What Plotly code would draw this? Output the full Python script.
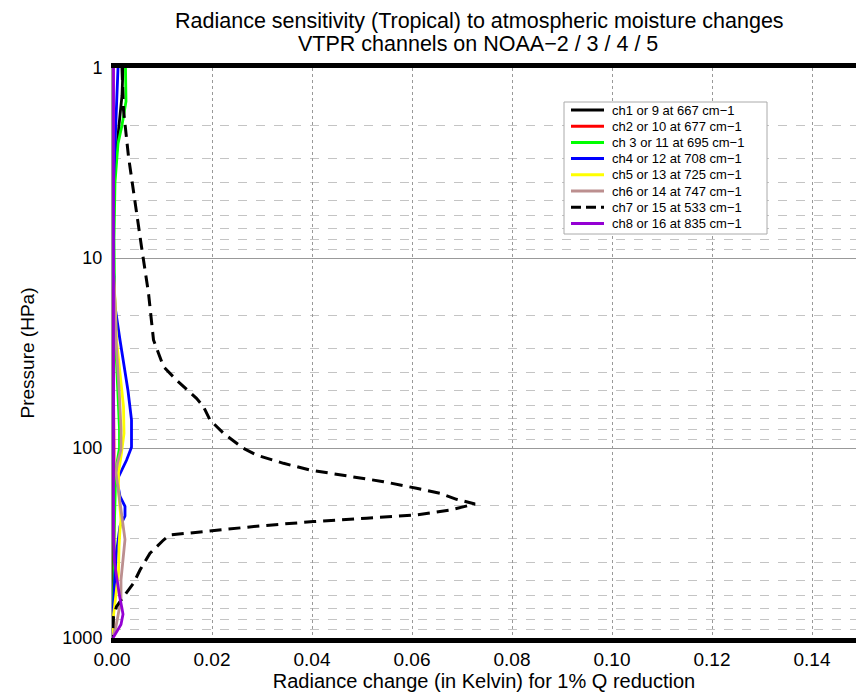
import plotly.graph_objects as go

# ---------------- data ----------------
names = ["ch1 or 9 at 667 cm\u22121", "ch2 or 10 at 677 cm\u22121", "ch 3 or 11 at 695 cm\u22121",
         "ch4 or 12 at 708 cm\u22121", "ch5 or 13 at 725 cm\u22121", "ch6 or 14 at 747 cm\u22121",
         "ch7 or 15 at 533 cm\u22121", "ch8 or 16 at 835 cm\u22121"]
colors = ["#000000", "#ff0000", "#00ff00", "#0000ff", "#ffff00", "#bc8f8f", "#000000", "#9400d3"]

p1 = [1, 1.2, 1.4, 2.0, 3.0, 4.0, 5.0, 10, 30, 100, 300, 1000]
v1 = [0.0022, 0.0021, 0.0020, 0.0014, 0.0008, 0.0004, 0.0002, 0.0001, 0.0001, 0.0001, 0.0001, 0.0001]

p2 = [1, 10, 50, 100, 200, 300, 500, 800, 1000]
v2 = [0.0002, 0.0002, 0.0003, 0.0004, 0.0004, 0.0005, 0.0004, 0.0002, 0.0001]

p3 = [1, 1.5, 2.0, 2.5, 4, 8, 15, 27, 60, 80, 100, 120, 150, 200, 300, 500, 750, 1000]
v3 = [0.0027, 0.0028, 0.0020, 0.0012, 0.0006, 0.0004, 0.0005, 0.0007, 0.0013, 0.0015, 0.0015, 0.0010,
      0.0007, 0.0006, 0.0004, 0.0004, 0.0002, 0.0000]

p4 = [1, 2, 4, 10, 12, 18, 27, 50, 71, 99, 116, 142, 153, 180, 203, 228, 258, 355, 455, 684, 1000]
v4 = [0.0012, 0.0008, 0.0003, 0.0002, 0.0003, 0.0006, 0.0016, 0.0032, 0.0039, 0.0039, 0.0029, 0.0013,
      0.0011, 0.0016, 0.0026, 0.0026, 0.0016, 0.0009, 0.0006, 0.0003, 0.0000]

p5 = [1, 10, 16.6, 27, 60.6, 83.7, 106, 135, 166, 204, 239, 268, 331, 455, 628, 800, 1000]
v5 = [0.0001, 0.0001, 0.0006, 0.0009, 0.0023, 0.0024, 0.0019, 0.0013, 0.0013, 0.0016, 0.0018, 0.0016,
      0.0014, 0.0013, 0.0007, 0.0002, 0.0000]

p6 = [1, 10, 15, 27, 54, 80, 102, 120, 135, 188, 239, 303, 495, 626, 870, 1000]
v6 = [0.0001, 0.0001, 0.0005, 0.0008, 0.0015, 0.0018, 0.0018, 0.0011, 0.0008, 0.0015, 0.0021, 0.0026,
      0.0018, 0.0018, 0.0008, 0.0001]

p7 = [1, 1.3, 1.66, 2.93, 5.15, 8.72, 15.3, 27.0, 31.7, 37.3, 43.9, 54.8, 60.6, 71.2, 83.7, 100.4,
      108.9, 120.4, 130.6, 141.6, 150.4, 163.0, 173.2, 186.2, 197, 212, 225, 234, 244, 257, 272, 287,
      305, 358, 439, 515, 606, 684, 773, 908, 1000]
v7 = [0.0020, 0.0021, 0.0023, 0.0033, 0.0046, 0.0059, 0.0073, 0.0083, 0.0093, 0.0103, 0.0129, 0.0169,
      0.0183, 0.0196, 0.0223, 0.0263, 0.0289, 0.0343, 0.0396, 0.0476, 0.0543, 0.0609, 0.0656, 0.0689,
      0.0726, 0.0676, 0.0609, 0.0509, 0.0403, 0.0296, 0.0209, 0.0116, 0.0103, 0.0076, 0.0056, 0.0043,
      0.0023, 0.0009, 0.0003, 0.0001, 0.0001]

p8 = [1, 100, 300, 400, 500, 600, 700, 750, 850, 930, 1000]
v8 = [0.0003, 0.0003, 0.0003, 0.0005, 0.0010, 0.0015, 0.0020, 0.0022, 0.0018, 0.0009, 0.0002]

pressures = [p1, p2, p3, p4, p5, p6, p7, p8]
values = [v1, v2, v3, v4, v5, v6, v7, v8]

x_ticks = [0.00, 0.02, 0.04, 0.06, 0.08, 0.10, 0.12, 0.14]
x_tick_text = ["0.00", "0.02", "0.04", "0.06", "0.08", "0.10", "0.12", "0.14"]
y_ticks = [1, 10, 100, 1000]
y_tick_text = ["1", "10", "100", "1000"]
y_minor = [2, 3, 4, 5, 6, 7, 8, 9, 20, 30, 40, 50, 60, 70, 80, 90, 200, 300, 400, 500, 600, 700, 800, 900]

title1 = "Radiance sensitivity (Tropical) to atmospheric moisture changes"
title2 = "VTPR channels on NOAA\u22122 / 3 / 4 / 5"
xlabel = "Radiance change (in Kelvin) for 1% Q reduction"
ylabel = "Pressure (HPa)"

FONT = "Liberation Sans, Arial, sans-serif"

# ---------------- layout geometry (pixels) ----------------
W, H = 856, 694
L, R, T, B = 112, 0, 68, 56
PW, PH = W - L - R, H - T - B


def px(x):
    return (x - L) / PW


def py(y):
    return (H - B - y) / PH


fig = go.Figure()
for i in range(8):
    dash = "12px,7px" if i == 6 else "solid"
    fig.add_trace(go.Scatter(x=values[i], y=pressures[i], mode="lines", name=names[i],
                             showlegend=False, hoverinfo="skip",
                             line=dict(color=colors[i], width=2.8 if i != 6 else 3, dash=dash)))

fig.update_layout(
    width=W, height=H, autosize=False,
    margin=dict(l=L, r=R, t=T, b=B, pad=0),
    paper_bgcolor="white", plot_bgcolor="white",
    font=dict(family=FONT, color="black", size=18),
    showlegend=False,
)

# titles
fig.add_annotation(text=title1, xref="paper", yref="paper", x=px(479), y=py(21),
                   showarrow=False, font=dict(size=21.5, family=FONT), xanchor="center", yanchor="middle")
fig.add_annotation(text=title2, xref="paper", yref="paper", x=px(478), y=py(44),
                   showarrow=False, font=dict(size=21.5, family=FONT), xanchor="center", yanchor="middle")

# custom legend (box, line samples, labels)
box_l, box_r, box_t, box_b = 564, 767, 102, 234
fig.add_shape(type="rect", xref="paper", yref="paper", x0=px(box_l), x1=px(box_r), y0=py(box_b), y1=py(box_t),
              line=dict(color="#aaaaaa", width=1), fillcolor="white", layer="above")
row0, row_step = 110, 16.2
for i in range(8):
    yy = row0 + i * row_step
    fig.add_shape(type="line", xref="paper", yref="paper", x0=px(571), x1=px(604), y0=py(yy), y1=py(yy),
                  line=dict(color=colors[i], width=3, dash="10px,5px" if i == 6 else "solid"), layer="above")
    fig.add_annotation(text=names[i], xref="paper", yref="paper", x=px(610), y=py(yy),
                       xanchor="left", yanchor="middle", showarrow=False, font=dict(size=13, family=FONT))

fig.update_xaxes(range=[0, 0.1488], tickvals=x_ticks, ticktext=x_tick_text,
                 showline=True, linewidth=5, linecolor="black", mirror=True,
                 showgrid=True, gridcolor="#999999", griddash="dot", gridwidth=1,
                 zeroline=False, ticks="", tickfont=dict(size=19), automargin=False,
                 title=dict(text=xlabel, font=dict(size=20), standoff=6))
fig.update_yaxes(type="log", range=[3, 0], tickvals=y_ticks, ticktext=y_tick_text,
                 showline=True, linewidth=1, linecolor="#999999",
                 showgrid=True, gridcolor="#999999", gridwidth=1,
                 minor=dict(tickvals=y_minor, showgrid=True, gridcolor="#c4c4c4", griddash="dash",
                            gridwidth=1, ticks=""),
                 zeroline=False, ticks="", tickfont=dict(size=18), automargin=False, ticklabelstandoff=5,
                 title=dict(text=ylabel, font=dict(size=19), standoff=22))

fig.write_html("out.html", config={"displayModeBar": False},
               post_script="document.body.style.margin='0px';")
